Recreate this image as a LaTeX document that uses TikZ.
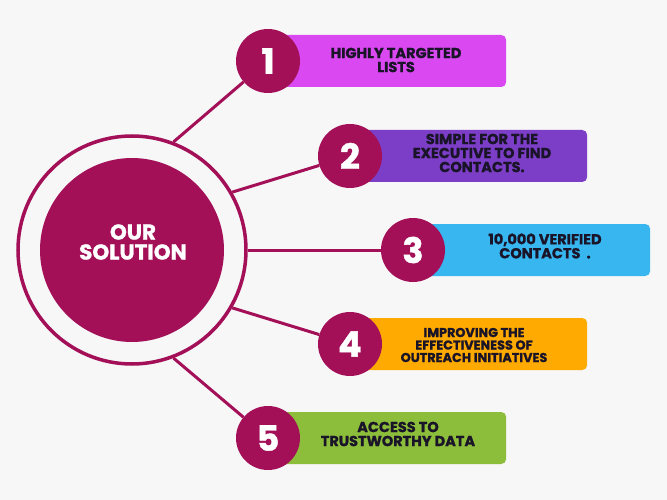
\documentclass[tikz,border=0pt]{standalone}
\usepackage{fontspec}
\setmainfont{Poppins}[BoldFeatures={FakeBold=1.2}]
\definecolor{bg}{RGB}{247,247,248}
\definecolor{wine}{RGB}{163,16,88}
\definecolor{ink}{RGB}{25,20,40}
\definecolor{barA}{RGB}{217,72,240}
\definecolor{barB}{RGB}{124,62,199}
\definecolor{barC}{RGB}{56,182,240}
\definecolor{barD}{RGB}{255,170,0}
\definecolor{barE}{RGB}{140,190,60}
\begin{document}
\begin{tikzpicture}[x=1pt,y=-1pt,
    bar/.style={rounded corners=5pt,minimum height=52pt,anchor=west,inner sep=0pt},
    bartext/.style={text=ink,font=\bfseries\fontsize{14.5}{14}\selectfont,align=center,inner sep=0pt},
    num/.style={circle,fill=wine,minimum size=64pt,inner sep=0pt,text=white,font=\bfseries\fontsize{35}{35}\selectfont},
    link/.style={wine,line width=3pt}]
      \fill[bg] (0,0) rectangle (667,500);
      \useasboundingbox (0,0) rectangle (667,500);
      % centre
      \node[circle,draw=wine,line width=3.5pt,minimum size=228pt,inner sep=0pt] (ring) at (132,250) {};
      \node[circle,fill=wine,minimum size=184pt,inner sep=0pt] (core) at (132,250) {};
      \node[text=white,align=center,inner sep=0pt,font=\bfseries\fontsize{21.5}{20}\selectfont] (title) at (133,242) {OUR\\SOLUTION};
      % bars
      \node[bar,fill=barA,minimum width=238pt] (b1) at (268,61) {};
      \node[bar,fill=barB,minimum width=237pt] (b2) at (350,156) {};
      \node[bar,fill=barC,minimum width=237pt] (b3) at (413,250) {};
      \node[bar,fill=barD,minimum width=237pt] (b4) at (350,344) {};
      \node[bar,fill=barE,minimum width=238pt] (b5) at (268,438) {};
      \node[bartext] (t1) at (396,60) {HIGHLY TARGETED\\LISTS};
      \node[bartext] (t2) at (482,153) {SIMPLE FOR THE\\EXECUTIVE TO FIND\\CONTACTS.};
      \node[bartext] (t3) at (545,246) {10,000 VERIFIED\\CONTACTS\ \ .};
      \node[bartext,font=\bfseries\fontsize{12.8}{12.5}\selectfont] (t4) at (474,345) {IMPROVING THE\\EFFECTIVENESS OF\\OUTREACH INITIATIVES};
      \node[bartext] (t5) at (398,434) {ACCESS TO\\TRUSTWORTHY DATA};
      % numbers
      \node[num] (n1) at (268,61) {1};
      \node[num] (n2) at (350,156) {2};
      \node[num] (n3) at (413,250) {3};
      \node[num] (n4) at (350,344) {4};
      \node[num] (n5) at (268,438) {5};
      \draw[link] (ring.69) -- (n1);
      \draw[link] (ring.30) -- (n2);
      \draw[link] (ring.0) -- (n3);
      \draw[link] (ring.-30) -- (n4);
      \draw[link] (ring.-69) -- (n5);
    \end{tikzpicture}
\end{document}
